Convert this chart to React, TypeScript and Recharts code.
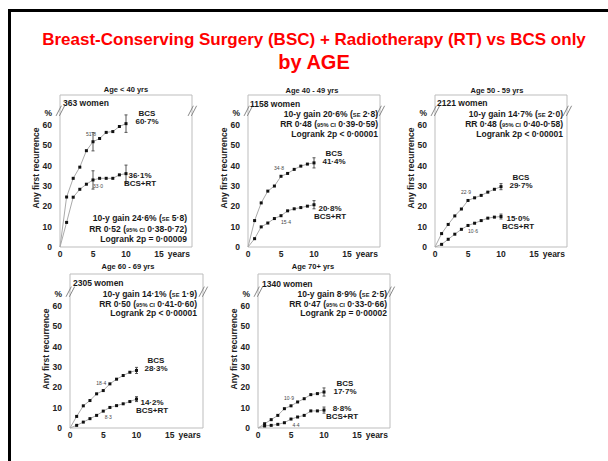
import React from "react";
import {
  LineChart,
  Line,
  XAxis,
  YAxis,
  ErrorBar,
  ReferenceArea,
  ReferenceLine,
} from "recharts";

const FONT = "'Liberation Sans', Arial, Helvetica, sans-serif";

// follow-up years
const YEARS = [0, 1, 2, 3, 4, 5, 6, 7, 8, 9, 10];

// Age < 40 yrs
const BCS_LT40 = [0, 24.6, 33.8, 39.3, 47.4, 51.8, 53.4, 56.4, 56.8, 59.3, 60.7];
const RT_LT40 = [0, 12.1, 24.5, 28.4, 30.9, 33.0, 33.8, 33.8, 33.8, 35.5, 36.1];
const BCS_ERR_LT40 = [0, 0, 0, 0, 0, 4.5, 0, 0, 0, 0, 4.3];
const RT_ERR_LT40 = [0, 0, 0, 0, 0, 4.5, 0, 0, 0, 0, 4.2];

// Age 40 - 49 yrs
const BCS_40S = [0, 13, 21.7, 27.5, 30, 34.8, 36.2, 38.2, 39.8, 40.8, 41.4];
const RT_40S = [0, 4.1, 9.9, 11.8, 14, 15.4, 17.8, 18.8, 19.4, 20.1, 20.8];
const BCS_ERR_40S = [0, 0, 0, 0, 0, 0, 0, 0, 0, 0, 2.5];
const RT_ERR_40S = [0, 0, 0, 0, 0, 0, 0, 0, 0, 0, 2];

// Age 50 - 59 yrs
const BCS_50S = [0, 6.6, 11.1, 15.3, 18.7, 22.9, 24.2, 25.4, 27, 28.4, 29.7];
const RT_50S = [0, 1.3, 3.8, 6.3, 8.7, 10.6, 11.7, 13, 14.2, 14.7, 15.0];
const BCS_ERR_50S = [0, 0, 0, 0, 0, 0, 0, 0, 0, 0, 1.5];
const RT_ERR_50S = [0, 0, 0, 0, 0, 0, 0, 0, 0, 0, 1.2];

// Age 60 - 69 yrs
const BCS_60S = [0, 5.7, 10.9, 13.5, 16.8, 18.4, 21.7, 24, 25.8, 27.4, 28.3];
const RT_60S = [0, 1.3, 2.9, 4.6, 6.2, 8.3, 10.1, 11, 11.9, 13, 14.2];
const BCS_ERR_60S = [0, 0, 0, 0, 0, 0, 0, 0, 0, 0, 1.5];
const RT_ERR_60S = [0, 0, 0, 0, 0, 0, 0, 0, 0, 0, 1.2];

// Age 70+ yrs
const BCS_70P = [0, 2.1, 4.1, 6.2, 9.5, 10.9, 12.8, 14.4, 16.4, 16.9, 17.7];
const RT_70P = [0, 1, 1.3, 1.8, 2.6, 4.4, 5.4, 6.2, 8.4, 8.4, 8.8];
const BCS_ERR_70P = [0, 0, 0, 0, 0, 0, 0, 0, 0, 0, 2];
const RT_ERR_70P = [0, 0, 0, 0, 0, 0, 0, 0, 0, 0, 1.5];

const X_TICKS = [0, 5, 10, 15, 18];
const Y_TICKS = [0, 10, 20, 30, 40, 50, 60, 66];

function Txt({ x, cy, size = 8, align = "left", bold = true, color = "#1a1a1a", children }: any) {
  const lh = Math.round(size * 1.15);
  const style: React.CSSProperties = {
    position: "absolute",
    top: cy - lh / 2,
    fontSize: size,
    lineHeight: `${lh}px`,
    fontWeight: bold ? 700 : 400,
    color,
    whiteSpace: "nowrap",
    fontFamily: FONT,
  };
  if (align === "left") style.left = x;
  else if (align === "right") style.right = 608 - x;
  else {
    style.left = x - 300;
    style.width = 600;
    style.textAlign = "center";
  }
  return <div style={style}>{children}</div>;
}

const Small = ({ children }: any) => <span style={{ fontSize: "0.68em" }}>{children}</span>;

function Panel({ cfg, bcs, rt, bcsErr, rtErr, bcsMid, rtMid }: any) {
  const data = YEARS.map((year, i) => ({
    year,
    bcs: bcs[i],
    rt: rt[i],
    bcsErr: bcsErr[i],
    rtErr: rtErr[i],
  }));

  const dot = (p: any) =>
    p.index === 0 ? (
      <g key={`d${p.index}`} />
    ) : (
      <rect key={`d${p.index}`} x={p.cx - 1.5} y={p.cy - 1.5} width={3} height={3} fill="#111" />
    );

  const midLabel = (txt: string, above: boolean) => (p: any) =>
    p.index === 5 ? (
      <text
        x={above ? p.x - 2 : p.x + 5}
        y={above ? p.y - 6 : p.y + 8}
        fontSize={5}
        fill="#444"
        textAnchor="middle"
        fontFamily={FONT}
      >
        {txt}
      </text>
    ) : (
      <g />
    );

  const tick = { fontSize: 8.5, fontWeight: 700, fill: "#222", fontFamily: FONT };

  return (
    <div style={{ position: "absolute", left: cfg.left - 36, top: cfg.top - 10 }}>
      <LineChart
        width={cfg.w + 50}
        height={cfg.h + 28}
        data={data}
        margin={{ top: 10, right: 14, bottom: 2, left: 14 }}
      >
        <ReferenceArea
          x1={0}
          x2={20}
          y1={0}
          y2={cfg.yMax}
          fill="none"
          stroke="#bdbdbd"
          ifOverflow="visible"
        />
        <XAxis
          type="number"
          dataKey="year"
          domain={[0, 20]}
          ticks={X_TICKS}
          interval={0}
          tickFormatter={(v: number) => (v === 18 ? "years" : String(v))}
          axisLine={false}
          tickLine={false}
          tickSize={3}
          tickMargin={1}
          height={16}
          tick={tick}
        />
        <YAxis
          type="number"
          domain={[0, cfg.yMax]}
          ticks={Y_TICKS}
          interval={0}
          tickFormatter={(v: number) => (v === 66 ? "%" : String(v))}
          axisLine={false}
          tickLine={false}
          width={22}
          tick={tick}
        />
        {[0, 20].flatMap((bx) =>
          [0, 0.5].map((o) => (
            <ReferenceLine
              key={`b${bx}-${o}`}
              segment={[
                { x: bx - 0.6 + o, y: 64.5 },
                { x: bx + 0.2 + o, y: 69.5 },
              ]}
              stroke="#888"
              ifOverflow="visible"
            />
          ))
        )}
        <Line
          dataKey="bcs"
          stroke="#aaa"
          strokeWidth={1}
          dot={dot}
          activeDot={false}
          isAnimationActive={false}
          label={midLabel(bcsMid, true)}
        >
          <ErrorBar dataKey="bcsErr" width={1.5} stroke="#555" strokeWidth={1} />
        </Line>
        <Line
          dataKey="rt"
          stroke="#aaa"
          strokeWidth={1}
          dot={dot}
          activeDot={false}
          isAnimationActive={false}
          label={midLabel(rtMid, false)}
        >
          <ErrorBar dataKey="rtErr" width={1.5} stroke="#555" strokeWidth={1} />
        </Line>
      </LineChart>
    </div>
  );
}

const TOP = { top: 95, h: 152, yMax: 74.8 };
const BOT = { top: 274, h: 154, yMax: 75.7 };

const PANELS = [
  {
    cfg: { ...TOP, left: 60, w: 132 },
    title: "Age < 40 yrs", titleX: 126, titleY: 89,
    women: "363 women", womenX: 63, womenY: 103,
    bcs: BCS_LT40, rt: RT_LT40, bcsErr: BCS_ERR_LT40, rtErr: RT_ERR_LT40,
    bcsMid: "51·8", rtMid: "33·0",
    bcsEnd: "60·7%", bcsX: 147, bcsY: 113.5,
    rtEnd: "36·1%", rtX: 140, rtY: 175,
    stats: ["24·6%", "5·8", "0·52", "0·38-0·72", "= 0·00009"],
    statX: 187, statY: 218, statLh: 10.5,
  },
  {
    cfg: { ...TOP, left: 248, w: 132 },
    title: "Age 40 - 49 yrs", titleX: 312, titleY: 90,
    women: "1158 women", womenX: 250, womenY: 104,
    bcs: BCS_40S, rt: RT_40S, bcsErr: BCS_ERR_40S, rtErr: RT_ERR_40S,
    bcsMid: "34·8", rtMid: "15·4",
    bcsEnd: "41·4%", bcsX: 334, bcsY: 153,
    rtEnd: "20·8%", rtX: 330, rtY: 208,
    stats: ["20·6%", "2·8", "0·48", "0·39-0·59", "< 0·00001"],
    statX: 378, statY: 114, statLh: 10,
  },
  {
    cfg: { ...TOP, left: 435, w: 132 },
    title: "Age 50 - 59 yrs", titleX: 497, titleY: 90,
    women: "2121 women", womenX: 437, womenY: 103,
    bcs: BCS_50S, rt: RT_50S, bcsErr: BCS_ERR_50S, rtErr: RT_ERR_50S,
    bcsMid: "22·9", rtMid: "10·6",
    bcsEnd: "29·7%", bcsX: 521, bcsY: 177,
    rtEnd: "15·0%", rtX: 518, rtY: 218,
    stats: ["14·7%", "2·0", "0·48", "0·40-0·58", "< 0·00001"],
    statX: 563, statY: 114, statLh: 10,
  },
  {
    cfg: { ...BOT, left: 70, w: 133 },
    title: "Age 60 - 69 yrs", titleX: 128, titleY: 266,
    women: "2305 women", womenX: 73, womenY: 283,
    bcs: BCS_60S, rt: RT_60S, bcsErr: BCS_ERR_60S, rtErr: RT_ERR_60S,
    bcsMid: "18·4", rtMid: "8·3",
    bcsEnd: "28·3%", bcsX: 156, bcsY: 360,
    rtEnd: "14·2%", rtX: 152, rtY: 402,
    stats: ["14·1%", "1·9", "0·50", "0·41-0·60", "< 0·00001"],
    statX: 197, statY: 294, statLh: 9.7,
  },
  {
    cfg: { ...BOT, left: 258, w: 132 },
    title: "Age 70+ yrs", titleX: 313, titleY: 266,
    women: "1340 women", womenX: 262, womenY: 284,
    bcs: BCS_70P, rt: RT_70P, bcsErr: BCS_ERR_70P, rtErr: RT_ERR_70P,
    bcsMid: "10·9", rtMid: "4·4",
    bcsEnd: "17·7%", bcsX: 345, bcsY: 383,
    rtEnd: "8·8%", rtX: 342, rtY: 408,
    stats: ["8·9%", "2·5", "0·47", "0·33-0·66", "= 0·00002"],
    statX: 387, statY: 294, statLh: 9.7,
  },
];

export default function App() {
  return (
    <div
      style={{
        position: "fixed",
        left: 0,
        top: 0,
        width: 608,
        height: 461,
        background: "#fff",
        overflow: "hidden",
        fontFamily: FONT,
      }}
    >
      <div style={{ position: "absolute", left: 8, top: 9, width: 600, height: 3, background: "#000" }} />
      <div style={{ position: "absolute", left: 8, top: 9, width: 3, height: 452, background: "#000" }} />
      <Txt x={314} cy={40} size={17} align="center" color="#ff0000">
        Breast-Conserving Surgery (BSC) + Radiotherapy (RT) vs BCS only
      </Txt>
      <Txt x={314} cy={62} size={20} align="center" color="#ff0000">
        by AGE
      </Txt>

      {PANELS.map((p, i) => (
        <React.Fragment key={i}>
          <Panel
            cfg={p.cfg}
            bcs={p.bcs}
            rt={p.rt}
            bcsErr={p.bcsErr}
            rtErr={p.rtErr}
            bcsMid={p.bcsMid}
            rtMid={p.rtMid}
          />
          <Txt x={p.titleX} cy={p.titleY} size={7.5} align="center">{p.title}</Txt>
          <Txt x={p.womenX} cy={p.womenY} size={8.5}>{p.women}</Txt>
          <div
            style={{
              position: "absolute",
              left: p.cfg.left - 24 - 60,
              top: p.cfg.top + p.cfg.h - 39 * 2.033 - 5,
              width: 120,
              height: 10,
              lineHeight: "10px",
              textAlign: "center",
              fontSize: 8.5,
              fontWeight: 700,
              color: "#222",
              whiteSpace: "nowrap",
              transform: "rotate(-90deg)",
            }}
          >
            Any first recurrence
          </div>
          <Txt x={p.bcsX} cy={p.bcsY} size={8} align="center">BCS</Txt>
          <Txt x={p.bcsX} cy={p.bcsY + 8} size={8} align="center">{p.bcsEnd}</Txt>
          <Txt x={p.rtX} cy={p.rtY} size={8} align="center">{p.rtEnd}</Txt>
          <Txt x={p.rtX} cy={p.rtY + 8} size={8} align="center">BCS+RT</Txt>
          <Txt x={p.statX} cy={p.statY} size={8.5} align="right">
            10-y gain {p.stats[0]} (<Small>SE</Small> {p.stats[1]})
          </Txt>
          <Txt x={p.statX} cy={p.statY + p.statLh} size={8.5} align="right">
            RR {p.stats[2]} (<Small>95% CI</Small> {p.stats[3]})
          </Txt>
          <Txt x={p.statX} cy={p.statY + 2 * p.statLh} size={8.5} align="right">
            Logrank 2p {p.stats[4]}
          </Txt>
        </React.Fragment>
      ))}
    </div>
  );
}
